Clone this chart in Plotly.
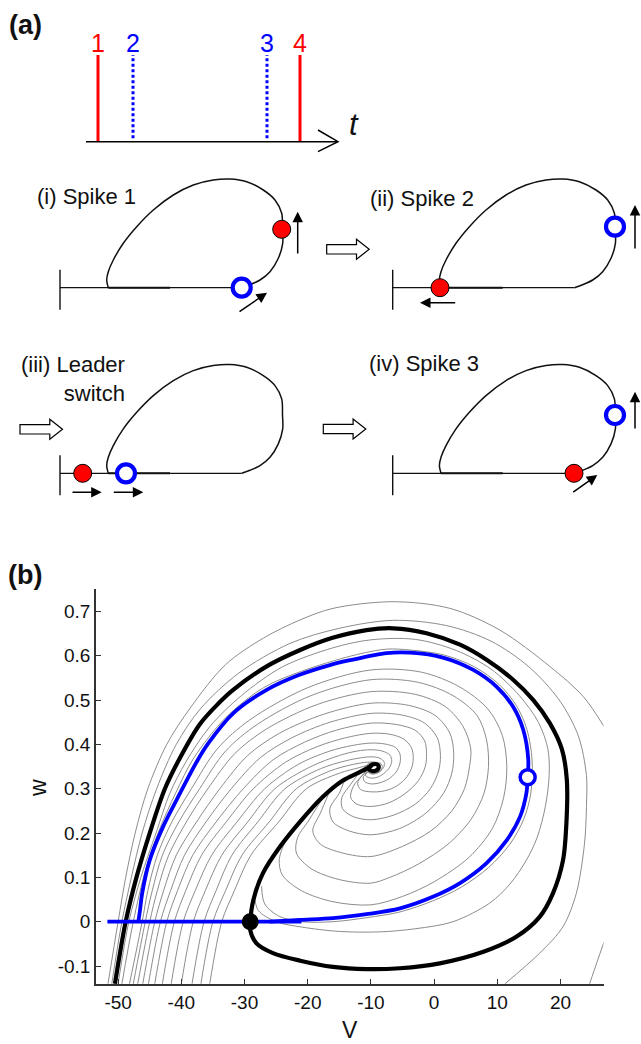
import plotly.graph_objects as go

W, H = 641, 1044
FONT = "Liberation Sans, Arial, Helvetica, sans-serif"
INK = "#111111"
RED = "#ff0000"
BLUE = "#0000ff"
GRAY = "#8c8c8c"

# ---------------- (a) spike raster ----------------
spike_times = [12, 47, 181, 214]
spike_labels = ["1", "2", "3", "4"]
spike_colors = [RED, BLUE, BLUE, RED]
spike_dotted = [False, True, True, False]
raster_end = 252

# ---------------- (a) schematic cycle, local units: x from the wall, y above the rest line ----------------
cycle_x = [48.3, 46.7, 48.3, 53.3, 63.3, 76.7, 93.3, 113.3, 133.3, 153.3, 170, 186.7,
           203.3, 215, 221.7, 222.5, 222.7, 218.3, 210, 200, 190, 181.7]
cycle_y = [0, 7.7, 16, 27.7, 44.4, 61, 77.7, 92.7, 102.7, 107.7, 108.7, 106,
           97.7, 87.7, 74.4, 58.4, 44.4, 29.4, 16, 7.7, 3, 0]

stage_titles = ["(i) Spike 1", "(ii) Spike 2", "(iii) Leader<br>switch", "(iv) Spike 3"]
red_cell_x = [221.7, 47.3, 22.7, 181.3]
red_cell_y = [58.4, 0, 0, 0]
blue_cell_x = [181.7, 222.3, 66, 222.3]
blue_cell_y = [0, 61, 0, 58.3]
# direction arrows: (tail x, tail y, head x, head y)
stage_arrows = [
    [(237.7, 32.7, 237.7, 76.0), (178.0, -25.0, 207.0, -5.0)],
    [(242.3, 37.7, 242.3, 82.7), (64.0, -15.0, 27.3, -15.0)],
    [(11.0, -19.0, 41.7, -19.0), (52.3, -19.0, 83.3, -19.0)],
    [(242.3, 43.3, 242.3, 81.6), (179.0, -20.0, 204.6, -1.7)],
]

# ---------------- (b) phase plane (V, w) ----------------
black_orbit = [(-50.5, -0.14), (-48.8, 0.0), (-47.1, 0.1), (-45.0, 0.2), (-42.6, 0.3), (-40.2, 0.37),
               (-37.1, 0.445), (-34.5, 0.487), (-31.8, 0.523), (-26.5, 0.576), (-21.2, 0.613),
               (-16.2, 0.640), (-10.7, 0.658), (-6.5, 0.662), (-1.2, 0.651), (4.1, 0.625), (8.3, 0.591),
               (12.5, 0.546), (15.7, 0.500), (18.3, 0.448), (20.2, 0.39), (21.0, 0.32), (20.9, 0.214),
               (20.4, 0.139), (18.8, 0.064), (16.7, 0.011), (13.0, -0.034), (7.8, -0.068), (0.9, -0.094),
               (-5.4, -0.105), (-10.7, -0.107), (-16.0, -0.102), (-21.2, -0.088), (-25.5, -0.071),
               (-28.1, -0.049), (-29.1, -0.019), (-29.1, 0.0), (-28.6, 0.049), (-27.1, 0.109),
               (-24.4, 0.169), (-21.2, 0.226), (-17.6, 0.282), (-14.5, 0.318), (-12.0, 0.336),
               (-10.6, 0.346), (-9.7, 0.355), (-8.9, 0.354), (-8.8, 0.346), (-9.4, 0.340),
               (-10.2, 0.342), (-10.3, 0.349), (-9.8, 0.352)]
blue_rest = [(-51.7, 0.0), (-21.0, 0.0)]
blue_orbit = [(-46.8, 0.0), (-46.5, 0.03), (-46.2, 0.064), (-45.0, 0.139), (-42.9, 0.214), (-40.2, 0.29),
              (-37.4, 0.365), (-35.6, 0.405), (-31.8, 0.47), (-26.5, 0.523), (-21.3, 0.557),
              (-16.5, 0.579), (-13.3, 0.590), (-7.5, 0.606), (-3.8, 0.607), (1.4, 0.596), (6.2, 0.568),
              (9.9, 0.53), (12.5, 0.485), (14.1, 0.433), (14.9, 0.365), (14.8, 0.326), (14.6, 0.29),
              (13.6, 0.237), (11.5, 0.184), (8.3, 0.132), (4.1, 0.087), (-0.2, 0.056), (-5.4, 0.03),
              (-10.7, 0.017), (-16.0, 0.008), (-21.2, 0.004), (-26.0, 0.0)]
saddle_point = (-29.1, 0.0)
blue_cell_state = (14.8, 0.326)

g_out1 = [(-51.6, -0.14), (-50.0, 0.0), (-48.8, 0.1), (-47.3, 0.2), (-45.3, 0.3), (-42.3, 0.40),
          (-38.6, 0.482), (-33.0, 0.58), (-27.0, 0.64), (-21.2, 0.681), (-16.0, 0.707),
          (-6.5, 0.722), (2.5, 0.707), (10.4, 0.658), (18.3, 0.576), (23.6, 0.508), (26.9, 0.44)]
g_out2 = [(-51.0, -0.14), (-49.4, 0.0), (-47.9, 0.1), (-46.2, 0.2), (-43.9, 0.3), (-40.8, 0.4),
          (-37.0, 0.48), (-31.0, 0.56), (-22.8, 0.628), (-15.0, 0.662), (-6.5, 0.68), (2.0, 0.668),
          (9.0, 0.633), (15.0, 0.575), (19.8, 0.5), (22.8, 0.42), (24.1, 0.33), (24.1, 0.26),
          (23.8, 0.177), (22.5, 0.064), (20.4, -0.011), (16.7, -0.071), (11.2, -0.14)]
g_out3 = [(24.6, -0.14), (25.8, -0.09), (26.9, -0.045)]
g_b1 = [(-50.0, -0.14), (-48.3, 0.0), (-46.4, 0.1), (-44.0, 0.2), (-41.8, 0.29), (-39.3, 0.36),
        (-35.5, 0.44), (-30.5, 0.51), (-24.0, 0.575), (-16.0, 0.618), (-10.0, 0.636), (-3.0, 0.637),
        (3.5, 0.612), (9.0, 0.57), (13.5, 0.51), (16.5, 0.45), (18.0, 0.39), (18.2, 0.33), (17.6, 0.26),
        (16.3, 0.19), (14.6, 0.139), (12.0, 0.085), (8.8, 0.042), (3.0, 0.0), (-3.0, -0.016),
        (-8.6, -0.023), (-15.0, -0.022), (-21.0, -0.012), (-25.0, 0.0), (-27.8, 0.025), (-28.4, 0.055)]
g_b2 = [(-49.4, -0.14), (-47.6, 0.0), (-45.6, 0.12), (-43.4, 0.21), (-40.9, 0.29), (-38.0, 0.37),
        (-33.0, 0.46), (-27.0, 0.528), (-21.0, 0.565), (-13.0, 0.6), (-7.5, 0.615), (-3.8, 0.613),
        (1.5, 0.602), (6.4, 0.575), (10.3, 0.535), (13.0, 0.488), (14.7, 0.433), (15.5, 0.365),
        (15.3, 0.29), (14.2, 0.232), (12.0, 0.175), (8.6, 0.122), (4.3, 0.078), (-0.2, 0.047),
        (-5.4, 0.022), (-10.7, 0.009), (-16.0, 0.0), (-21.0, 0.0), (-24.5, 0.012), (-26.8, 0.04),
        (-27.3, 0.08)]
g_c1 = [(-48.2, -0.14), (-46.2, 0.0), (-45.3, 0.07), (-43.8, 0.15), (-41.5, 0.225), (-38.4, 0.3),
        (-34.3, 0.39), (-29.2, 0.455), (-20.0, 0.528), (-10.0, 0.568), (-2.0, 0.563), (4.0, 0.53),
        (8.5, 0.48), (10.8, 0.42), (11.5, 0.35), (11.0, 0.28), (9.2, 0.21), (5.5, 0.145), (0.0, 0.09),
        (-5.0, 0.057), (-10.0, 0.038), (-16.0, 0.045), (-21.0, 0.07), (-24.0, 0.105), (-24.5, 0.14),
        (-23.2, 0.19), (-20.8, 0.232)]
g_c2 = [(-47.6, -0.14), (-45.7, 0.0), (-44.6, 0.07), (-43.0, 0.15), (-40.4, 0.225), (-37.1, 0.3),
        (-33.0, 0.385), (-28.0, 0.445), (-19.5, 0.51), (-10.0, 0.546), (-2.5, 0.54), (3.0, 0.51),
        (6.8, 0.465), (8.3, 0.41), (8.6, 0.35), (7.9, 0.29), (5.8, 0.23), (2.2, 0.175), (-2.5, 0.13),
        (-7.0, 0.1), (-10.0, 0.087), (-15.0, 0.095), (-19.5, 0.12), (-21.8, 0.155), (-21.6, 0.19),
        (-20.0, 0.225), (-17.8, 0.275)]
g_c3 = [(-46.9, -0.14), (-45.0, 0.0), (-43.8, 0.07), (-42.0, 0.15), (-39.2, 0.225), (-35.8, 0.3),
        (-31.5, 0.38), (-26.5, 0.435), (-18.5, 0.49), (-10.0, 0.519), (-3.0, 0.513), (1.8, 0.485),
        (4.6, 0.44), (5.8, 0.39), (5.6, 0.35), (4.8, 0.3), (2.8, 0.25), (-0.5, 0.205), (-5.0, 0.17),
        (-10.0, 0.147), (-14.5, 0.155), (-18.0, 0.175), (-19.2, 0.205), (-18.0, 0.245), (-16.5, 0.295)]
g_c4 = [(-46.1, -0.14), (-44.2, 0.0), (-42.8, 0.07), (-40.8, 0.15), (-37.6, 0.225), (-33.9, 0.3),
        (-29.5, 0.375), (-24.5, 0.425), (-17.5, 0.468), (-10.0, 0.493), (-4.0, 0.488), (0.2, 0.465),
        (2.5, 0.425), (3.1, 0.38), (2.8, 0.335), (1.5, 0.29), (-1.3, 0.245), (-5.5, 0.21),
        (-10.0, 0.196), (-13.5, 0.205), (-16.0, 0.225), (-16.5, 0.255), (-15.0, 0.29), (-14.2, 0.318)]
g_c5 = [(-45.2, -0.14), (-43.3, 0.0), (-41.7, 0.07), (-39.5, 0.15), (-36.1, 0.225), (-32.1, 0.3),
        (-27.5, 0.37), (-22.5, 0.415), (-16.5, 0.45), (-10.0, 0.47), (-5.0, 0.466), (-1.5, 0.448),
        (0.5, 0.415), (1.0, 0.375), (0.7, 0.34), (-0.6, 0.3), (-3.0, 0.265), (-6.5, 0.24),
        (-10.0, 0.23), (-12.8, 0.237), (-14.5, 0.255), (-14.6, 0.28), (-13.2, 0.31), (-12.2, 0.33)]
g_c6 = [(-44.2, -0.14), (-42.3, 0.0), (-40.6, 0.07), (-38.2, 0.15), (-34.5, 0.225), (-30.2, 0.3),
        (-25.5, 0.365), (-20.5, 0.405), (-15.5, 0.432), (-10.0, 0.448), (-6.0, 0.445), (-3.0, 0.432),
        (-1.5, 0.408), (-1.2, 0.38), (-1.4, 0.35), (-2.5, 0.318), (-4.5, 0.29), (-7.2, 0.268),
        (-10.0, 0.26), (-12.2, 0.265), (-13.2, 0.28), (-12.8, 0.305), (-11.4, 0.33), (-10.8, 0.34)]
g_c7 = [(-43.0, -0.14), (-41.1, 0.0), (-39.3, 0.07), (-36.8, 0.15), (-32.9, 0.225), (-28.6, 0.3),
        (-23.5, 0.36), (-18.5, 0.395), (-14.0, 0.415), (-10.0, 0.425), (-7.0, 0.423), (-4.8, 0.412),
        (-3.6, 0.393), (-3.3, 0.37), (-3.6, 0.345), (-4.6, 0.322), (-6.3, 0.303), (-8.3, 0.294),
        (-10.0, 0.293), (-11.6, 0.298), (-12.1, 0.312), (-11.5, 0.328), (-10.6, 0.338)]
g_c8 = [(-41.6, -0.14), (-39.7, 0.0), (-37.8, 0.07), (-35.2, 0.15), (-31.2, 0.225), (-26.8, 0.3),
        (-21.5, 0.355), (-16.5, 0.385), (-12.8, 0.398), (-10.0, 0.403), (-7.8, 0.401), (-6.1, 0.393),
        (-5.4, 0.378), (-5.4, 0.358), (-6.0, 0.338), (-7.2, 0.322), (-8.7, 0.313), (-10.0, 0.311),
        (-11.0, 0.316), (-11.2, 0.327), (-10.5, 0.337)]
g_c9 = [(-40.0, -0.14), (-38.1, 0.0), (-36.2, 0.07), (-33.6, 0.15), (-29.5, 0.225), (-25.2, 0.3),
        (-19.5, 0.35), (-15.0, 0.375), (-12.2, 0.385), (-10.0, 0.388), (-8.2, 0.385), (-7.0, 0.376),
        (-6.7, 0.362), (-7.1, 0.347), (-8.0, 0.334), (-9.0, 0.326), (-10.0, 0.324), (-10.8, 0.329),
        (-10.7, 0.338), (-10.0, 0.343)]
g_c10 = [(-38.3, -0.14), (-36.4, 0.0), (-34.5, 0.07), (-32.0, 0.15), (-27.9, 0.225), (-23.6, 0.3),
         (-18.0, 0.345), (-14.0, 0.363), (-11.5, 0.37), (-10.0, 0.372), (-8.6, 0.369), (-7.9, 0.36),
         (-8.0, 0.348), (-8.7, 0.338), (-9.6, 0.333), (-10.3, 0.336), (-10.3, 0.343), (-9.9, 0.347)]
g_c11 = [(-36.9, -0.14), (-35.0, 0.0), (-33.0, 0.07), (-30.4, 0.15), (-26.1, 0.225), (-21.8, 0.3),
         (-16.5, 0.34), (-12.8, 0.355), (-10.5, 0.36), (-9.0, 0.359), (-8.5, 0.352), (-8.8, 0.344),
         (-9.5, 0.34), (-10.1, 0.343), (-9.9, 0.347)]
g_c12 = [(-35.5, -0.14), (-33.6, 0.0), (-31.6, 0.07), (-29.0, 0.15), (-24.6, 0.225), (-20.2, 0.3),
         (-15.0, 0.335), (-12.0, 0.347), (-10.3, 0.353), (-9.2, 0.352), (-9.0, 0.347), (-9.4, 0.343),
         (-9.9, 0.344)]
g_core = [(-8.6, 0.36), (-8.2, 0.35), (-8.6, 0.338), (-9.6, 0.334), (-10.6, 0.339), (-10.9, 0.349),
          (-10.3, 0.357), (-9.3, 0.358), (-8.9, 0.35), (-9.3, 0.342), (-10.1, 0.342), (-10.3, 0.349),
          (-9.8, 0.352)]
gray_paths = [g_out1, g_out2, g_out3, g_b1, g_b2, g_c1, g_c2, g_c3, g_c4, g_c5, g_c6,
              g_c7, g_c8, g_c9, g_c10, g_c11, g_c12, g_core]

v_ticks = [-50, -40, -30, -20, -10, 0, 10, 20]
w_ticks = [-0.1, 0, 0.1, 0.2, 0.3, 0.4, 0.5, 0.6, 0.7]


def px_x(px):
    return px / W


def px_y(py):
    return 1 - py / H


fig = go.Figure()


def add_path(pts, color, width, xa="x", ya="y", shape="spline"):
    fig.add_trace(go.Scatter(
        x=[p[0] for p in pts], y=[p[1] for p in pts], mode="lines",
        line=dict(color=color, width=width, shape=shape, smoothing=0.9),
        xaxis=xa, yaxis=ya, hoverinfo="skip"))


# ---- (b) phase plane ----
for path in gray_paths:
    add_path(path, GRAY, 1.0)
add_path(black_orbit, "#000000", 4.2)
add_path(blue_rest, BLUE, 3.8, shape="linear")
add_path(blue_orbit, BLUE, 3.8)
fig.add_trace(go.Scatter(x=[saddle_point[0]], y=[saddle_point[1]], mode="markers",
                         marker=dict(size=17, color="#000000"), xaxis="x", yaxis="y", hoverinfo="skip"))
fig.add_trace(go.Scatter(x=[blue_cell_state[0]], y=[blue_cell_state[1]], mode="markers",
                         marker=dict(size=15, color="white", line=dict(color=BLUE, width=3.5)),
                         xaxis="x", yaxis="y", hoverinfo="skip"))

# ---- (a) raster ----
for t, c, dotted in zip(spike_times, spike_colors, spike_dotted):
    fig.add_trace(go.Scatter(
        x=[t, t], y=[0.04 if dotted else 0.0, 1.0], mode="lines",
        line=dict(color=c, width=3, dash="3px,2.5px" if dotted else "solid"),
        xaxis="x2", yaxis="y2", hoverinfo="skip"))

# ---- (a) schematics ----
walls_px = [60, 392.7, 60, 392.7]
rests_py = [287.7, 287.7, 473.3, 473.3]
LOC_X = [-58, 248]
LOC_Y = [-40, 140]
annotations = []
for k in range(4):
    xa, ya = f"x{k + 3}", f"y{k + 3}"
    add_path(list(zip([0, 0], [-22, 18])), INK, 1.4, xa, ya, "linear")
    add_path(list(zip([0, cycle_x[-1]], [0, 0])), INK, 1.3, xa, ya, "linear")
    add_path(list(zip([cycle_x[0], 110], [0, 0])), INK, 2.0, xa, ya, "linear")
    add_path(list(zip(cycle_x, cycle_y)), INK, 1.5, xa, ya)
    fig.add_trace(go.Scatter(x=[red_cell_x[k]], y=[red_cell_y[k]], mode="markers",
                             marker=dict(size=18, color=RED, line=dict(color="#000000", width=1)),
                             xaxis=xa, yaxis=ya, hoverinfo="skip"))
    fig.add_trace(go.Scatter(x=[blue_cell_x[k]], y=[blue_cell_y[k]], mode="markers",
                             marker=dict(size=18, color="white", line=dict(color=BLUE, width=4.2)),
                             xaxis=xa, yaxis=ya, hoverinfo="skip"))
    for (tx, ty, hx, hy) in stage_arrows[k]:
        annotations.append(dict(x=hx, y=hy, ax=tx, ay=ty, xref=xa, yref=ya, axref=xa, ayref=ya,
                                text="", showarrow=True, arrowhead=2, arrowsize=1.4,
                                arrowwidth=1.5, arrowcolor="#000000", standoff=0))

title_pos = [(-25, 91.7, "left"), (-24.4, 89.4, "left"), (66.7, 94.8, "right"), (-26, 110, "left")]
for k, (tx, ty, anchor) in enumerate(title_pos):
    annotations.append(dict(x=tx, y=ty, xref=f"x{k + 3}", yref=f"y{k + 3}", text=stage_titles[k],
                            xanchor=anchor, yanchor="middle", align=anchor, showarrow=False,
                            font=dict(family=FONT, size=22, color=INK)))

for t, lab, c in zip(spike_times, spike_labels, spike_colors):
    annotations.append(dict(x=t, y=1.138, xref="x2", yref="y2", text=lab, showarrow=False,
                            xanchor="center", yanchor="middle",
                            font=dict(family=FONT, size=25, color=c)))
annotations.append(dict(x=268, y=0.2, xref="x2", yref="y2", text="<i>t</i>", showarrow=False,
                        xanchor="center", yanchor="middle", font=dict(family=FONT, size=31, color=INK)))

# panel letters and axis titles
annotations.append(dict(x=px_x(25), y=px_y(25), xref="paper", yref="paper", text="<b>(a)</b>",
                        showarrow=False, xanchor="center", yanchor="middle",
                        font=dict(family=FONT, size=27, color=INK)))
annotations.append(dict(x=px_x(25), y=px_y(575), xref="paper", yref="paper", text="<b>(b)</b>",
                        showarrow=False, xanchor="center", yanchor="middle",
                        font=dict(family=FONT, size=27, color=INK)))
annotations.append(dict(x=px_x(350), y=px_y(1030), xref="paper", yref="paper", text="V",
                        showarrow=False, xanchor="center", yanchor="middle",
                        font=dict(family=FONT, size=23, color=INK)))
annotations.append(dict(x=px_x(38), y=px_y(788), xref="paper", yref="paper", text="w",
                        showarrow=False, xanchor="center", yanchor="middle", textangle=-90,
                        font=dict(family=FONT, size=23, color=INK)))

# shapes: raster time axis and hollow transition arrows
shapes = [
    dict(type="line", xref="x2", yref="y2", x0=0, y0=0, x1=raster_end, y1=0,
         line=dict(color="#000000", width=1.5)),
    dict(type="path", xref="x2", yref="y2",
         path=f"M {raster_end - 20},0.135 L {raster_end},0 L {raster_end - 20},-0.115",
         line=dict(color="#000000", width=1.5)),
]
block_arrows = [(326.7, 249.3), (20.0, 429.3), (323.3, 429.0)]
for (lx, cy) in block_arrows:
    L, T, hb = lx, lx + 42.5, lx + 42.5 - 12.7
    pts = [(L, cy - 4.7), (hb, cy - 4.7), (hb, cy - 10), (T, cy), (hb, cy + 10), (hb, cy + 4.7), (L, cy + 4.7)]
    d = "M " + " L ".join(f"{px_x(a):.5f},{px_y(b):.5f}" for a, b in pts) + " Z"
    shapes.append(dict(type="path", xref="paper", yref="paper", path=d, fillcolor="white",
                       line=dict(color="#000000", width=1.2)))

axis_common = dict(showgrid=False, zeroline=False, showline=True, linecolor="#333333", linewidth=1.6,
                   ticks="inside", ticklen=5, tickwidth=1.3, tickcolor="#333333",
                   tickfont=dict(family=FONT, size=19, color=INK), fixedrange=True)

layout = dict(
    width=W, height=H, margin=dict(l=0, r=0, t=0, b=0, pad=0),
    paper_bgcolor="white", plot_bgcolor="rgba(0,0,0,0)", showlegend=False,
    annotations=annotations, shapes=shapes,
    xaxis=dict(domain=[px_x(96), px_x(603.5)], range=[-53.5, 26.8], anchor="y",
               tickvals=v_ticks, ticktext=[str(v) for v in v_ticks], **axis_common),
    yaxis=dict(domain=[px_y(984), px_y(589.3)], range=[-0.1406, 0.75], anchor="x",
               tickvals=w_ticks, ticktext=[("%g" % v) for v in w_ticks], **axis_common),
    xaxis2=dict(domain=[px_x(81), px_x(361)], range=[-5, 275], anchor="y2", visible=False),
    yaxis2=dict(domain=[px_y(167.7), px_y(29.0)], range=[-0.3, 1.3], anchor="x2", visible=False),
)
for k in range(4):
    xw, yb = walls_px[k], rests_py[k]
    layout[f"xaxis{k + 3}"] = dict(domain=[px_x(xw + LOC_X[0]), min(1.0, px_x(xw + LOC_X[1]))],
                                   range=LOC_X, anchor=f"y{k + 3}", visible=False)
    layout[f"yaxis{k + 3}"] = dict(domain=[px_y(yb - LOC_Y[0]), px_y(yb - LOC_Y[1])],
                                   range=LOC_Y, anchor=f"x{k + 3}", visible=False)

fig.update_layout(**layout)
fig.write_html("out.html")
